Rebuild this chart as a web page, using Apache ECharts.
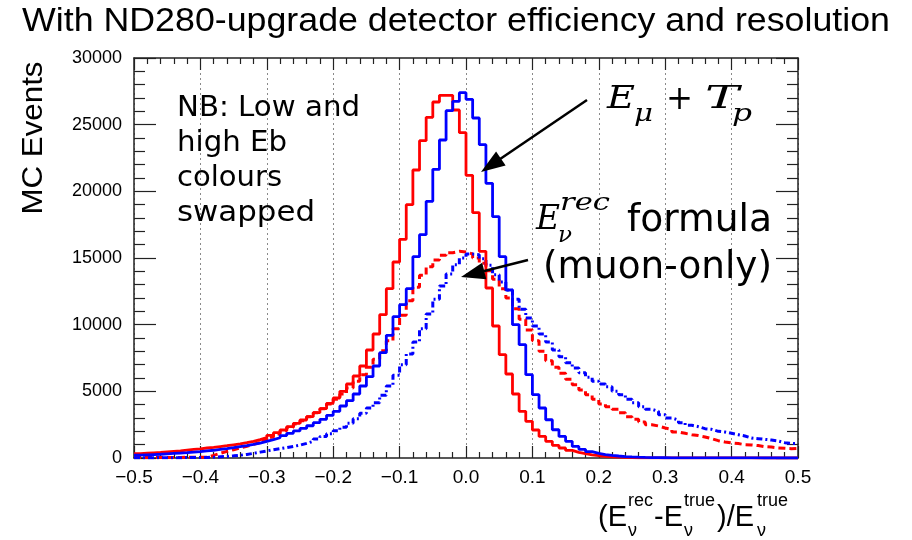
<!DOCTYPE html>
<html><head><meta charset="utf-8">
<script src="https://cdn.jsdelivr.net/npm/echarts@6/dist/echarts.min.js"></script>
<style>html,body{margin:0;padding:0;background:#fff}#c{width:912px;height:540px}</style>
</head><body><div id="c"></div>
<script>
// Bin low edges (100 bins of width 0.01 from -0.5 to 0.5) plus the final upper edge
const binEdges = [];
for (let i = 0; i <= 100; i++) binEdges.push(+(-0.5 + i * 0.01).toFixed(2));

const xTicks = [-0.5,-0.4,-0.3,-0.2,-0.1,0.0,0.1,0.2,0.3,0.4,0.5];
const yTicks = [0,5000,10000,15000,20000,25000,30000];

// Red solid: E_mu + T_p
const redSolid = [330,360,390,420,460,500,540,590,640,690,
 750,800,860,920,990,1060,1150,1250,1380,1530,
 1700,1900,2100,2350,2600,2850,3100,3400,3700,4100,
 4500,5000,5550,6150,6900,8100,9300,10750,12700,14700,
 16400,19000,21600,23800,25550,26700,27200,27200,26100,24400,
 21200,18400,15500,12750,9900,7750,6300,4800,3500,2750,
 2100,1620,1250,950,750,570,420,320,240,170,
 120,90,60,45,30,20,15,12,10,8,
 6,6,5,5,4,4,3,3,3,2,
 2,2,2,1,1,1,1,1,1,1];

// Blue solid: E_mu + T_p
const blueSolid = [220,240,260,280,310,340,370,400,440,480,
 530,580,640,700,770,850,930,1020,1120,1250,
 1380,1520,1680,1850,2030,2220,2420,2650,2900,3200,
 3500,3900,4300,4800,5400,6100,6900,7900,9200,10600,
 11500,12700,15100,16750,19250,21650,23850,26050,26750,27400,
 26900,25500,23500,20600,18100,15100,12600,10000,8500,6250,
 4750,3750,2870,2120,1620,1250,870,650,480,350,
 260,200,150,110,80,60,45,35,25,20,
 15,12,10,8,7,6,5,4,3,3,
 2,2,2,2,1,1,1,1,1,1];

// Red dashed: E_nu^rec formula (muon-only)
const redDashed = [40,40,40,40,40,45,45,50,50,55,
 60,200,350,500,620,750,880,1020,1170,1350,
 1550,1800,2050,2300,2550,2800,3100,3400,3700,4050,
 4400,4800,5250,5750,6250,6800,7400,8050,8800,9700,
 10700,11800,12800,13700,14350,14850,15200,15400,15500,15450,
 15300,15000,14600,14050,13400,12700,12000,11200,10400,9600,
 8800,8000,7300,6800,6350,5900,5500,5100,4750,4400,
 4050,3850,3650,3400,3100,2900,2700,2500,2400,2250,
 2150,1950,1850,1750,1680,1580,1450,1300,1200,1130,
 1080,1000,980,930,850,820,760,730,700,720];

// Blue dashed: E_nu^rec formula (muon-only)
const blueDashed = [20,20,20,20,20,25,25,30,30,35,
 40,60,90,120,160,210,270,350,440,530,
 620,700,780,870,960,1100,1250,1430,1620,1820,
 2050,2300,2600,2950,3350,3750,4150,4700,5400,6200,
 7000,7800,8700,9700,10800,11900,12900,13800,14500,15000,
 15300,15250,14950,14450,13750,13200,12600,11900,11150,10500,
 9900,9300,8700,8100,7600,7150,6750,6400,6050,5750,
 5550,5350,5000,4750,4400,4150,3850,3650,3500,3250,
 3000,2850,2650,2450,2350,2200,2150,2000,1950,1850,
 1750,1650,1500,1450,1400,1350,1280,1150,1100,1080];

function histData(vals) {
  const d = vals.map((v, i) => [binEdges[i], v]);
  d.push([binEdges[100], vals[vals.length - 1]]);
  return d;
}

const mctx = document.createElement('canvas').getContext('2d');
function fitScale(text, style, size, family, target) {
  mctx.font = style + ' ' + size + 'px ' + family;
  return target / mctx.measureText(text).width;
}
function txt(text, x, y, opt) {
  const o = Object.assign({size: 20, family: 'Liberation Sans', fstyle: 'normal', fweight: 'normal', align: 'left', width: null, rot: 0, fill: '#000'}, opt || {});
  const sx = o.width ? fitScale(text, o.fstyle + ' ' + o.fweight, o.size, o.family, o.width) : 1;
  return {type: 'text', x: x, y: y, rotation: o.rot, scaleX: sx, z: 100,
    style: {text: text, x: 0, y: 0, fontSize: o.size, fontFamily: o.family, fontStyle: o.fstyle, fontWeight: o.fweight,
      fill: o.fill, textAlign: o.align, textVerticalAlign: 'middle'}};
}
function arrow(x0, y0, x1, y1) {
  const dx = x1 - x0, dy = y1 - y0, L = Math.hypot(dx, dy), ux = dx / L, uy = dy / L;
  const hl = 24, hw = 8.5;
  const bx = x1 - ux * hl, by = y1 - uy * hl;
  return [
    {type: 'line', z: 100, shape: {x1: x0, y1: y0, x2: bx + ux * 4, y2: by + uy * 4}, style: {stroke: '#000', lineWidth: 2.5}},
    {type: 'polygon', z: 100, shape: {points: [[x1, y1], [bx - uy * hw, by + ux * hw], [bx + uy * hw, by - ux * hw]]}, style: {fill: '#000'}}
  ];
}

const fmtX = v => (v < -1e-9 ? '\u2212' : '') + Math.abs(v).toFixed(1);
const fmtY = v => String(Math.round(v));

const axisCommonX = {
  type: 'value', min: xTicks[0], max: xTicks[xTicks.length - 1], interval: 0.1,
  axisLine: {show: true, onZero: false, lineStyle: {color: '#222', width: 1.5}},
  minorTick: {show: true, splitNumber: 5, length: 6, lineStyle: {color: '#222', width: 1.2}},
};
const axisCommonY = {
  type: 'value', min: yTicks[0], max: yTicks[yTicks.length - 1], interval: 5000,
  axisLine: {show: true, onZero: false, lineStyle: {color: '#222', width: 1.5}},
  minorTick: {show: true, splitNumber: 5, length: 11, lineStyle: {color: '#222', width: 1.2}},
  splitLine: {show: false}
};

const SERIF = 'DejaVu Serif';
const graphics = [];
graphics.push(txt('With ND280-upgrade detector efficiency and resolution', 22, 22, {size: 33, width: 868}));
graphics.push(txt('MC Events', 34, 138, {size: 29, align: 'center', rot: Math.PI / 2, width: 153}));
// NB note
graphics.push(txt('NB: Low and', 177, 108, {size: 29, family: 'DejaVu Sans', width: 183}));
graphics.push(txt('high Eb', 177, 143, {size: 29, family: 'DejaVu Sans', width: 110}));
graphics.push(txt('colours', 177, 178, {size: 29, family: 'DejaVu Sans', width: 105}));
graphics.push(txt('swapped', 177, 213, {size: 29, family: 'DejaVu Sans', width: 138}));
// E_mu + T_p
graphics.push(txt('E', 607, 100, {size: 31, family: SERIF, fstyle: 'italic', width: 28}));
graphics.push(txt('\u03bc', 634, 114, {size: 25, family: SERIF, fstyle: 'italic', width: 19}));
graphics.push(txt('+', 666, 100, {size: 34, family: SERIF, width: 27}));
graphics.push(txt('T', 705, 100, {size: 31, family: SERIF, fstyle: 'italic', width: 34}));
graphics.push(txt('p', 732, 114, {size: 25, family: SERIF, fstyle: 'italic', width: 20}));
// E_nu^rec formula (muon-only)
graphics.push(txt('E', 536, 220, {size: 33, family: SERIF, fstyle: 'italic', width: 24}));
graphics.push(txt('rec', 560, 204, {size: 24, family: SERIF, fstyle: 'italic', width: 50}));
graphics.push(txt('\u03bd', 558, 236, {size: 22, family: SERIF, fstyle: 'italic', width: 14}));
graphics.push(txt('formula', 627, 221, {size: 37, family: 'DejaVu Sans', width: 145}));
graphics.push(txt('(muon-only)', 543, 268, {size: 37, family: 'DejaVu Sans', width: 229}));
// x axis title
graphics.push(txt('(E', 598, 518, {size: 29}));
graphics.push(txt('rec', 628, 501, {size: 18}));
graphics.push(txt('\u03bd', 628, 531, {size: 18}));
graphics.push(txt('-E', 654, 518, {size: 29}));
graphics.push(txt('true', 684, 501, {size: 18}));
graphics.push(txt('\u03bd', 684, 531, {size: 18}));
graphics.push(txt(')/E', 717, 518, {size: 29}));
graphics.push(txt('true', 757, 501, {size: 18}));
graphics.push(txt('\u03bd', 757, 531, {size: 18}));
// arrows
arrow(587, 100, 481, 172).forEach(g => graphics.push(g));
arrow(528, 260, 461, 277).forEach(g => graphics.push(g));

const chart = echarts.init(document.getElementById('c'), null, {renderer: 'canvas'});
chart.setOption({
  animation: false,
  backgroundColor: '#fff',
  grid: {left: 134, top: 58, width: 664, height: 400, containLabel: false},
  xAxis: [
    Object.assign({}, axisCommonX, {
      position: 'bottom',
      axisTick: {show: true, inside: true, length: 12, lineStyle: {color: '#222', width: 1.2}},
      axisLabel: {show: true, formatter: fmtX, fontSize: 19, color: '#000', fontFamily: 'Liberation Sans', margin: 10},
      splitLine: {show: true, lineStyle: {type: [2, 3], color: '#8a8a8a', width: 1}}
    }),
    Object.assign({}, axisCommonX, {
      position: 'top',
      axisTick: {show: true, inside: true, length: 12, lineStyle: {color: '#222', width: 1.2}},
      axisLabel: {show: false},
      splitLine: {show: false}
    })
  ],
  yAxis: [
    Object.assign({}, axisCommonY, {
      position: 'left',
      axisTick: {show: true, inside: true, length: 22, lineStyle: {color: '#222', width: 1.2}},
      axisLabel: {show: true, formatter: fmtY, fontSize: 18, color: '#000', fontFamily: 'Liberation Sans', margin: 12}
    }),
    Object.assign({}, axisCommonY, {
      position: 'right',
      axisTick: {show: true, inside: true, length: 22, lineStyle: {color: '#222', width: 1.2}},
      axisLabel: {show: false}
    })
  ],
  series: [
    {name: 'redDashed', type: 'line', step: 'end', showSymbol: false, data: histData(redDashed),
      lineStyle: {color: '#ff0000', width: 3, type: [7, 4]}, clip: true},
    {name: 'blueDashed', type: 'line', step: 'end', showSymbol: false, data: histData(blueDashed),
      lineStyle: {color: '#0000ff', width: 3, type: [6, 3, 2, 3]}, clip: true},
    {name: 'redSolid', type: 'line', step: 'end', showSymbol: false, data: histData(redSolid),
      lineStyle: {color: '#ff0000', width: 2.8}, clip: true},
    {name: 'blueSolid', type: 'line', step: 'end', showSymbol: false, data: histData(blueSolid),
      lineStyle: {color: '#0000ff', width: 2.8}, clip: true}
  ],
  graphic: graphics
});
</script>
</body></html>
